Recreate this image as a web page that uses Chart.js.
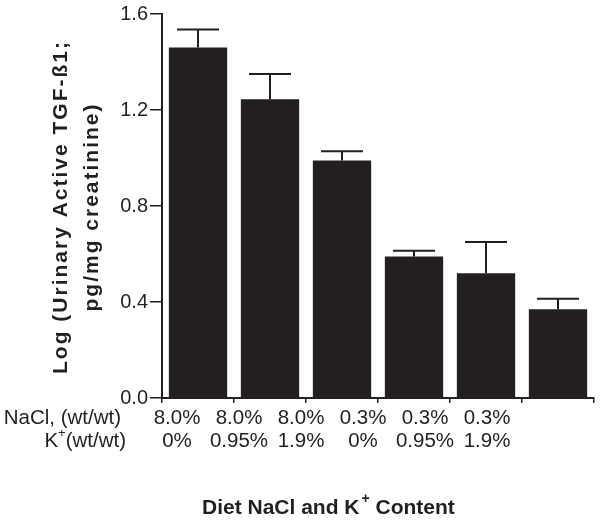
<!DOCTYPE html>
<html>
<head>
<meta charset="utf-8">
<script src="https://cdn.jsdelivr.net/npm/chart.js@4/dist/chart.umd.min.js"></script>
<style>
  html, body { margin: 0; padding: 0; background: #fff; }
  #wrap { width: 600px; height: 522px; }
</style>
</head>
<body>
<div id="wrap"><canvas id="canvas-graph"></canvas></div>
<script>
// data
var groups = ['G1', 'G2', 'G3', 'G4', 'G5', 'G6'];
var naclRow = ['8.0%', '8.0%', '8.0%', '0.3%', '0.3%', '0.3%'];
var kRow = ['0%', '0.95%', '1.9%', '0%', '0.95%', '1.9%'];
var means = [1.46, 1.245, 0.99, 0.59, 0.52, 0.37];
var errUp = [1.535, 1.35, 1.028, 0.614, 0.65, 0.414];
var yTicks = [0.0, 0.4, 0.8, 1.2, 1.6];
var yTitle = ['Log (Urinary Active TGF-ß1;', 'pg/mg creatinine)'];

var ink = '#231f20';
var font = '"Liberation Sans", Arial, sans-serif';

// upper error bars, drawn through the y scale
const errorBars = {
    id: 'errorBars',
    afterDatasetsDraw(chart) {
        const ctx = chart.ctx;
        const meta = chart.getDatasetMeta(0);
        const y = chart.scales.y;
        ctx.save();
        ctx.strokeStyle = ink;
        ctx.lineWidth = 2;
        meta.data.forEach((bar, i) => {
            const x = bar.x;
            const top = y.getPixelForValue(errUp[i]);
            ctx.beginPath();
            ctx.moveTo(x, bar.y);
            ctx.lineTo(x, top);
            ctx.moveTo(x - 21, top);
            ctx.lineTo(x + 21, top);
            ctx.stroke();
        });
        ctx.restore();
    }
};

// y title, the table under the x axis and the x title
const textLayer = {
    id: 'textLayer',
    afterDraw(chart) {
        const ctx = chart.ctx;
        const area = chart.chartArea;
        const left = area.left;
        const row1 = area.bottom + 20;
        const row2 = row1 + 23;
        ctx.save();
        ctx.fillStyle = ink;

        // rotated y title, two lines
        const midY = (area.top + area.bottom) / 2 + 1;
        ctx.font = 'bold 21px ' + font;
        ctx.letterSpacing = '2px';
        ctx.textAlign = 'center';
        ctx.textBaseline = 'alphabetic';
        [67, 98].forEach((bx, i) => {
            ctx.save();
            ctx.translate(bx, midY);
            ctx.rotate(-Math.PI / 2);
            ctx.fillText(yTitle[i], 0, 0);
            ctx.restore();
        });
        ctx.letterSpacing = '0px';

        ctx.textBaseline = 'middle';
        ctx.font = '20.5px ' + font;
        ctx.textAlign = 'center';
        for (let i = 0; i < groups.length; i++) {
            const cx = left + 15 + 62 * i;
            ctx.fillText(naclRow[i], cx, row1);
            ctx.fillText(kRow[i], cx, row2);
        }

        // row headers
        ctx.textAlign = 'right';
        ctx.fillText('NaCl, (wt/wt)', 121, row1);
        const rest = '(wt/wt)';
        const wRest = ctx.measureText(rest).width;
        ctx.fillText(rest, 126, row2);
        ctx.font = '13px ' + font;
        const wPlus = ctx.measureText('+').width;
        ctx.fillText('+', 126 - wRest, row2 - 8);
        ctx.font = '20.5px ' + font;
        ctx.fillText('K', 126 - wRest - wPlus, row2);

        // x title with superscript +
        const ty = row2 + 67;
        ctx.textAlign = 'left';
        ctx.font = 'bold 21px ' + font;
        const a = 'Diet NaCl and K';
        const b = ' Content';
        const wa = ctx.measureText(a).width;
        ctx.font = 'bold 14px ' + font;
        const wp = ctx.measureText('+').width;
        const x0 = 202;
        ctx.font = 'bold 21px ' + font;
        ctx.fillText(a, x0, ty);
        ctx.fillText(b, x0 + wa + wp + 2, ty);
        ctx.font = 'bold 14px ' + font;
        ctx.fillText('+', x0 + wa + 2, ty - 9);
        ctx.restore();
    }
};

const config = {
    type: 'bar',
    data: {
        labels: groups,
        datasets: [{
            data: means,
            backgroundColor: ink,
            borderWidth: 0,
            barPercentage: 0.81,
            categoryPercentage: 1.0
        }]
    },
    options: {
        responsive: false,
        animation: false,
        layout: { padding: { top: 14, right: 6, left: 0, bottom: 0 } },
        plugins: {
            legend: { display: false },
            tooltip: { enabled: false }
        },
        scales: {
            x: {
                offset: true,
                grid: {
                    offset: true,
                    drawOnChartArea: false,
                    drawTicks: true,
                    tickLength: 5,
                    color: ink,
                    lineWidth: 1.5
                },
                border: { color: ink, width: 2 },
                ticks: { callback: () => '' },
                afterFit: (scale) => { scale.height = 124; }
            },
            y: {
                min: 0,
                max: 1.6,
                afterBuildTicks: (scale) => {
                    scale.ticks = yTicks.map(v => ({ value: v }));
                },
                grid: {
                    drawOnChartArea: false,
                    tickLength: 12,
                    color: ink,
                    lineWidth: 1.5
                },
                border: { color: ink, width: 2 },
                ticks: {
                    color: ink,
                    padding: 2,
                    font: { family: font, size: 20 },
                    callback: (v) => Number(v).toFixed(1)
                },
                afterFit: (scale) => { scale.width = 162; }
            }
        }
    },
    plugins: [errorBars, textLayer]
};

var canvas = document.getElementById('canvas-graph');
canvas.width = 600;
canvas.height = 522;
new Chart(canvas.getContext('2d'), config);
</script>
</body>
</html>
